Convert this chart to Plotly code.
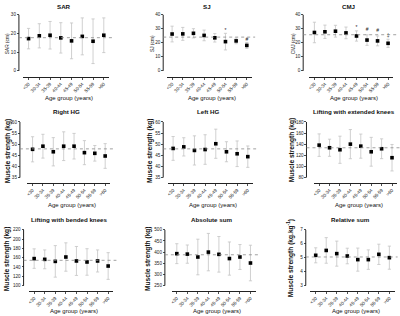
import plotly.graph_objects as go

# ---------------- data ----------------
age_groups = ["<30", "30-34", "35-39", "40-44", "45-49", "50-54", "55-59", ">60"]

panel_titles = ["SAR", "SJ", "CMJ", "Right HG", "Left HG", "Lifting with extended knees",
                "Lifting with bended knees", "Absolute sum", "Relative sum"]
y_titles = ["SAR (cm)", "SJ (cm)", "CMJ (cm)",
            "Muscle strength (kg)", "Muscle strength (kg)", "Muscle strength (kg)",
            "Muscle strength (kg)", "Muscle strength (kg)", "Muscle strength (kg.kg<sup>-1</sup>)"]

sar_mean = [17.2, 18.7, 19.0, 17.6, 16.0, 18.4, 15.8, 19.0]
sar_sd = [5.45, 6.45, 7.35, 8.1, 9.55, 9.85, 11.9, 9.25]
sj_mean = [26.2, 26.3, 26.7, 25.2, 23.5, 20.8, 21.3, 18.1]
sj_sd = [5.6, 4.6, 3.3, 3.8, 3.0, 5.9, 2.0, 2.1]
cmj_mean = [27.3, 27.8, 28.2, 27.0, 24.8, 21.9, 21.3, 19.6]
cmj_sd = [7.3, 4.75, 4.2, 4.15, 3.65, 3.75, 3.5, 2.9]
rhg_mean = [47.7, 49.1, 46.6, 49.1, 49.1, 46.2, 45.9, 44.7]
rhg_sd = [5.65, 5.35, 6.35, 6.45, 5.75, 5.4, 3.5, 5.55]
lhg_mean = [48.1, 48.8, 47.2, 47.6, 50.2, 46.6, 45.7, 44.4]
lhg_sd = [5.35, 4.1, 6.55, 6.65, 6.55, 4.5, 5.75, 4.8]
ext_mean = [138.3, 133.6, 130.0, 140.1, 136.5, 126.4, 131.8, 115.7]
ext_sd = [20.2, 15.4, 24.4, 26.2, 21.7, 25.9, 17.8, 23.8]
bend_mean = [158.0, 156.4, 152.0, 161.4, 152.9, 150.7, 152.9, 142.0]
bend_sd = [21.0, 20.3, 34.0, 30.6, 31.2, 28.6, 23.8, 28.8]
abs_mean = [393, 391, 378, 400, 390, 371, 378, 351]
abs_sd = [44.7, 41.0, 80.0, 84.0, 80.0, 74.5, 56.0, 80.0]
rel_mean = [5.17, 5.52, 5.29, 5.12, 4.86, 4.86, 5.24, 5.00]
rel_sd = [0.54, 0.92, 0.90, 0.56, 0.83, 0.70, 0.73, 0.83]

means = [sar_mean, sj_mean, cmj_mean, rhg_mean, lhg_mean, ext_mean, bend_mean, abs_mean, rel_mean]
sds = [sar_sd, sj_sd, cmj_sd, rhg_sd, lhg_sd, ext_sd, bend_sd, abs_sd, rel_sd]
ref_values = [17.7, 24.0, 25.7, 47.9, 47.9, 133.6, 154.3, 388, 5.05]

y_ticks = [[0, 10, 20, 30], [0, 10, 20, 30, 40], [0, 10, 20, 30, 40],
           [35, 40, 45, 50, 55, 60], [35, 40, 45, 50, 55, 60],
           [80, 100, 120, 140, 160, 180], [100, 120, 140, 160, 180, 200, 220],
           [250, 300, 350, 400, 450, 500], [3, 4, 5, 6, 7]]

# significance markers
sig_panel = [1, 1, 2, 2, 2, 2]
sig_group = ["50-54", ">60", "45-49", "50-54", "55-59", ">60"]
sig_y = [28.6, 22.4, 30.6, 29.0, 28.4, 24.8]
sig_text = ["*", "#", "*", "#", "#", "‡"]

# ---------------- layout geometry (pixels) ----------------
W, H = 400, 316
row_top_px = [12.7, 120.7, 229.3]
row_min_px = [69.3, 176.7, 285.3]
row_axis_px = [75.0, 182.0, 290.7]
title_px = [4.5, 110.5, 219.0]
xtitle_px = [96.5, 204.0, 311.0]
yaxis_x_px = [17, 162, 302.7, 18, 162, 306, 21.7, 163.7, 305.3]
xaxis_l_px = [21.3, 165.6, 308.7, 25.5, 166.6, 313.5, 27.0, 170.4, 310.0]
xaxis_r_px = [107.7, 251.4, 393.3, 108.9, 252.4, 397.2, 112.0, 255.0, 394.6]
ytitle_x_px = [5.5, 151, 293, 5.5, 148, 291, 4.5, 146, 290]

FONT = "Liberation Sans, Arial, sans-serif"
AX = "#222222"

fig = go.Figure()
layout = dict(width=W, height=H, margin=dict(l=0, r=0, t=0, b=0),
              paper_bgcolor="white", plot_bgcolor="white", showlegend=False,
              font=dict(family=FONT, color="#111111"))
shapes, annotations = [], []

def px_x(p):
    return p / W

def px_y(p):
    return 1 - p / H

for i in range(9):
    r = i // 3
    n = "" if i == 0 else str(i + 1)
    xa, ya = "x" + n, "y" + n
    ymin, ymax = y_ticks[i][0], y_ticks[i][-1]
    pad = (row_axis_px[r] - row_min_px[r]) / (row_min_px[r] - row_top_px[r])
    yr = [ymin - pad * (ymax - ymin), ymax]

    fig.add_trace(go.Scatter(
        x=age_groups, y=means[i], xaxis=xa, yaxis=ya, mode="markers",
        marker=dict(symbol="square", size=3.6, color="black"),
        error_y=dict(type="data", array=sds[i], visible=True,
                     color="#c4c4c4", thickness=0.8, width=1.6),
        cliponaxis=False))

    layout["xaxis" + n] = dict(
        domain=[px_x(xaxis_l_px[i]), px_x(xaxis_r_px[i])], anchor="free",
        position=px_y(row_axis_px[r]), type="category",
        categoryorder="array", categoryarray=age_groups, range=[-0.5, 7.5],
        showline=True, linecolor=AX, linewidth=1, showgrid=False, zeroline=False,
        ticks="outside", ticklen=2, tickwidth=0.8, tickcolor=AX,
        tickangle=-45, tickfont=dict(size=4.6, family=FONT, color="#222"),
        fixedrange=True)
    layout["yaxis" + n] = dict(
        domain=[px_y(row_axis_px[r]), px_y(row_top_px[r])], anchor="free",
        position=px_x(yaxis_x_px[i]), range=yr, tickvals=y_ticks[i],
        showline=False, showgrid=False, zeroline=False,
        ticks="outside", ticklen=2, tickwidth=0.8, tickcolor=AX,
        tickfont=dict(size=4.6, family=FONT, color="#222"), fixedrange=True)

    shapes.append(dict(type="line", xref="paper", yref=ya,
                       x0=px_x(yaxis_x_px[i]), x1=px_x(yaxis_x_px[i]),
                       y0=ymin, y1=ymax, line=dict(color=AX, width=1)))
    shapes.append(dict(type="line", xref="paper", yref=ya,
                       x0=px_x(yaxis_x_px[i]), x1=px_x(xaxis_r_px[i] + 3),
                       y0=ref_values[i], y1=ref_values[i],
                       line=dict(color="#8a8a8a", width=0.8, dash="dot")))

    cx = (xaxis_l_px[i] + xaxis_r_px[i]) / 2
    annotations.append(dict(text="<b>%s</b>" % panel_titles[i], xref="paper", yref="paper",
                            x=px_x(cx - 2), y=px_y(title_px[r]), showarrow=False,
                            xanchor="center", yanchor="middle",
                            font=dict(size=6.2, family=FONT, color="#111")))
    annotations.append(dict(text="Age group (years)", xref="paper", yref="paper",
                            x=px_x(cx + 3), y=px_y(xtitle_px[r]), showarrow=False,
                            xanchor="center", yanchor="middle",
                            font=dict(size=6, family=FONT, color="#111")))
    ymid = (row_top_px[r] + row_min_px[r]) / 2
    if r == 0:
        yt_font = dict(size=4.8, family=FONT, color="#111")
        yt_text = y_titles[i]
    else:
        yt_font = dict(size=6.6, family=FONT, color="#111")
        yt_text = "<b>%s</b>" % y_titles[i]
    annotations.append(dict(text=yt_text, xref="paper", yref="paper",
                            x=px_x(ytitle_x_px[i]), y=px_y(ymid + 1), showarrow=False,
                            textangle=-90, xanchor="center", yanchor="middle",
                            font=yt_font))

for p in (1, 2):
    n = str(p + 1)
    xs = [g for k, g in enumerate(sig_group) if sig_panel[k] == p]
    ys = [v for k, v in enumerate(sig_y) if sig_panel[k] == p]
    ts = [t for k, t in enumerate(sig_text) if sig_panel[k] == p]
    fig.add_trace(go.Scatter(x=xs, y=ys, text=ts, mode="text", xaxis="x" + n, yaxis="y" + n,
                             textfont=dict(size=5, family=FONT, color="#222"),
                             textposition="middle center", cliponaxis=False))

layout["shapes"] = shapes
layout["annotations"] = annotations
fig.update_layout(**layout)
fig.write_html("out.html", config={"displayModeBar": False, "staticPlot": True},
               post_script="document.body.style.margin='0';document.body.style.overflow='hidden';")
